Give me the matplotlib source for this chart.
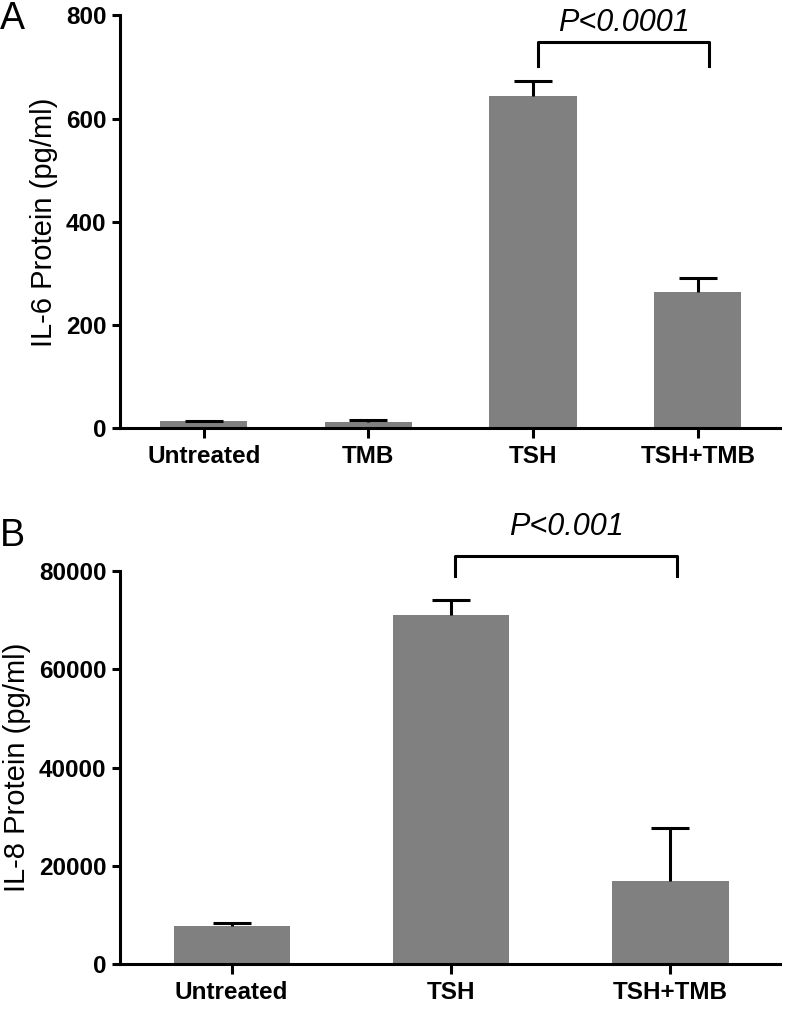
import matplotlib.pyplot as plt

plt.rcParams['font.family'] = ['Liberation Sans', 'DejaVu Sans']

# panel A: IL-6
il6_groups = ['Untreated', 'TMB', 'TSH', 'TSH+TMB']
il6_mean = [14, 12, 643, 265]
il6_err = [1, 4, 29, 27]

# panel B: IL-8
il8_groups = ['Untreated', 'TSH', 'TSH+TMB']
il8_mean = [7700, 71000, 16900]
il8_err = [600, 3100, 10800]

bar_color = '#808080'

fig = plt.figure(figsize=(7.88, 10.27), dpi=100)
axA = fig.add_axes([0.152, 0.583, 0.838, 0.402])
axB = fig.add_axes([0.152, 0.0613, 0.838, 0.3827])


def draw_panel(ax, groups, mean, err, ymax, yticks, ylabel):
    x = list(range(len(groups)))
    ax.bar(x, mean, width=0.53, color=bar_color, zorder=2)
    # upper error bars only
    eb = ax.errorbar(x, mean, yerr=[[0] * len(err), err], fmt='none', ecolor='black',
                     elinewidth=2.2, capsize=14, capthick=2.2, zorder=3)
    eb[1][0].set_visible(False)
    ax.set_xlim(-0.51, len(groups) - 0.5)
    ax.set_ylim(0, ymax)
    ax.set_yticks(yticks)
    ax.set_xticks(x)
    ax.set_xticklabels(groups, fontsize=17.5, fontweight='bold')
    for lab in ax.get_yticklabels():
        lab.set_fontsize(17.5)
        lab.set_fontweight('bold')
    ax.set_ylabel(ylabel, fontsize=21, labelpad=6)
    for s in ['top', 'right']:
        ax.spines[s].set_visible(False)
    for s in ['left', 'bottom']:
        ax.spines[s].set_linewidth(2.2)
    ax.tick_params(axis='both', width=2.2, length=6, direction='out')
    ax.tick_params(axis='x', length=7, pad=5)


draw_panel(axA, il6_groups, il6_mean, il6_err, 800, [0, 200, 400, 600, 800],
           'IL-6 Protein (pg/ml)')
draw_panel(axB, il8_groups, il8_mean, il8_err, 80000,
           [0, 20000, 40000, 60000, 80000], 'IL-8 Protein (pg/ml)')


def bracket(ax, x1, x2, y_top, y_leg, text, y_text):
    ax.plot([x1, x1, x2, x2], [y_leg, y_top, y_top, y_leg], color='black',
            lw=2.2, clip_on=False)
    ax.text((x1 + x2) / 2, y_text, text, ha='center', va='center',
            fontsize=22, style='italic', clip_on=False)


bracket(axA, 2.03, 3.07, 748, 701, 'P<0.0001', 785)
bracket(axB, 1.02, 2.03, 83000, 79000, 'P<0.001', 89000)

fig.text(0.0, 0.999, 'A', fontsize=27, ha='left', va='top')
fig.text(0.0, 0.496, 'B', fontsize=27, ha='left', va='top')

fig.savefig('out.png', dpi=100)
